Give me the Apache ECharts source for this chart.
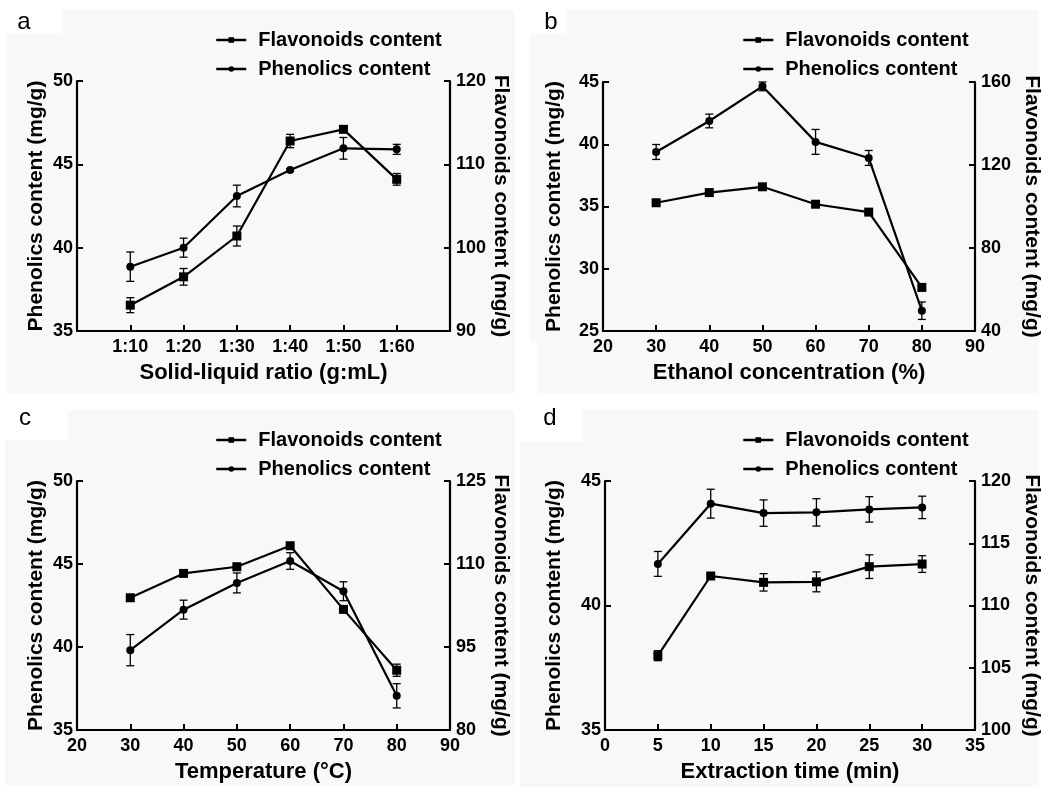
<!DOCTYPE html>
<html>
<head>
<meta charset="utf-8">
<script src="https://cdn.jsdelivr.net/npm/echarts@6/dist/echarts.min.js"></script>
<style>html,body{margin:0;padding:0;background:#fff}#c{width:1043px;height:790px}</style>
</head>
<body>
<div id="c"></div>
<script>
// ---------- DATA ----------
// Panel a: solid-liquid ratio
const ratioCategories = ['1:10', '1:20', '1:30', '1:40', '1:50', '1:60'];
const aPhenolics = [38.86, 40.0, 43.1, 44.66, 45.96, 45.9];
const aPhenolicsErr = [0.88, 0.57, 0.65, 0.08, 0.65, 0.3];
const aFlavonoids = [93.1, 96.5, 101.4, 112.8, 114.2, 108.2];
const aFlavonoidsErr = [0.9, 1.0, 1.2, 0.8, 0.3, 0.7];

// Panel b: ethanol concentration (%)
const ethanolX = [30, 40, 50, 60, 70, 80];
const bPhenolics = [39.38, 41.87, 44.65, 40.19, 38.9, 26.63];
const bPhenolicsErr = [0.6, 0.55, 0.35, 1.0, 0.6, 0.7];
const bFlavonoids = [101.8, 106.7, 109.5, 101.1, 97.3, 61.0];
const bFlavonoidsErr = [0.8, 0.8, 0.8, 0.8, 0.8, 0.8];

// Panel c: temperature (°C)
const tempX = [30, 40, 50, 60, 70, 80];
const cPhenolics = [39.81, 42.25, 43.86, 45.18, 43.36, 37.06];
const cPhenolicsErr = [0.94, 0.57, 0.6, 0.5, 0.57, 0.73];
const cFlavonoids = [103.9, 108.3, 109.5, 113.3, 101.8, 90.8];
const cFlavonoidsErr = [0.2, 0.3, 0.6, 0.5, 0.5, 1.1];

// Panel d: extraction time (min)
const timeX = [5, 10, 15, 20, 25, 30];
const dPhenolics = [41.67, 44.09, 43.71, 43.74, 43.86, 43.94];
const dPhenolicsErr = [0.5, 0.58, 0.53, 0.55, 0.51, 0.45];
const dFlavonoids = [105.97, 112.37, 111.86, 111.9, 113.12, 113.33];
const dFlavonoidsErr = [0.4, 0.2, 0.7, 0.8, 0.95, 0.67];

// Axis ranges / ticks
const xRanges = [[0, 7, 1], [20, 90, 10], [20, 90, 10], [0, 35, 5]];
const leftRanges = [[35, 50, 5], [25, 45, 5], [35, 50, 5], [35, 45, 5]];
const rightRanges = [[90, 120, 10], [40, 160, 40], [80, 125, 15], [100, 120, 5]];
const xNames = ['Solid-liquid ratio (g:mL)', 'Ethanol concentration (%)', 'Temperature (°C)', 'Extraction time (min)'];
const leftName = 'Phenolics content (mg/g)';
const rightName = 'Flavonoids content (mg/g)';
const panelLetters = ['a', 'b', 'c', 'd'];
const FLAV = 'Flavonoids content';
const PHEN = 'Phenolics content';

// ---------- LAYOUT ----------
const FONT = 'Liberation Sans, Arial, Helvetica, sans-serif';
const grids = [
  {left: 77, top: 81, width: 373, height: 250},
  {left: 603, top: 82, width: 373, height: 249},
  {left: 77, top: 481, width: 373, height: 249},
  {left: 605, top: 481, width: 371, height: 249}
];
const leftGaps = [30, 38, 30, 40];
const rightGaps = [40, 46, 40, 46];
const legendPos = [{left: 210, top: 25}, {left: 737, top: 25}, {left: 210, top: 425}, {left: 737, top: 425}];
const letterPos = [[24, 22], [551, 22], [25, 418], [550, 418]];

const panels = [
  {x: ratioCategories.map((c, i) => i + 1), ph: aPhenolics, phE: aPhenolicsErr, fl: aFlavonoids, flE: aFlavonoidsErr},
  {x: ethanolX, ph: bPhenolics, phE: bPhenolicsErr, fl: bFlavonoids, flE: bFlavonoidsErr},
  {x: tempX, ph: cPhenolics, phE: cPhenolicsErr, fl: cFlavonoids, flE: cFlavonoidsErr},
  {x: timeX, ph: dPhenolics, phE: dPhenolicsErr, fl: dFlavonoids, flE: dFlavonoidsErr}
];

const axisLine = {show: true, lineStyle: {color: '#000', width: 2.2}};
const axisTick = {show: true, inside: true, length: 6, lineStyle: {color: '#000', width: 2}};
const tickLabel = {color: '#000', fontFamily: FONT, fontWeight: 'bold', fontSize: 18};

function errRender(params, api) {
  const x = api.value(0), lo = api.value(1), hi = api.value(2);
  const p1 = api.coord([x, hi]), p2 = api.coord([x, lo]);
  const w = 4;
  const st = {stroke: '#000', lineWidth: 1.3};
  return {type: 'group', children: [
    {type: 'line', shape: {x1: p1[0], y1: p1[1], x2: p2[0], y2: p2[1]}, style: st},
    {type: 'line', shape: {x1: p1[0] - w, y1: p1[1], x2: p1[0] + w, y2: p1[1]}, style: st},
    {type: 'line', shape: {x1: p2[0] - w, y1: p2[1], x2: p2[0] + w, y2: p2[1]}, style: st}
  ]};
}

const xAxis = [], yAxis = [], series = [], legend = [], graphic = [];

// light gray panel backgrounds
const bgColor = '#f8f8f8';
[
  [62, 10, 453, 24], [6, 33, 509, 360],
  [567, 10, 472, 24], [530, 33, 509, 310], [538, 343, 501, 50],
  [68, 410, 447, 30], [5, 440, 510, 345],
  [582, 410, 457, 32], [520, 442, 519, 345]
].forEach(r => graphic.push({type: 'rect', shape: {x: r[0], y: r[1], width: r[2], height: r[3]}, style: {fill: bgColor}, z: -10, silent: true}));

panelLetters.forEach((L, i) => graphic.push({
  type: 'text', x: letterPos[i][0], y: letterPos[i][1], z: 10,
  style: {text: L, fill: '#000', font: '24px ' + FONT, align: 'center', verticalAlign: 'middle'}
}));

panels.forEach((p, i) => {
  xAxis.push({
    type: 'value', gridIndex: i, min: xRanges[i][0], max: xRanges[i][1], interval: xRanges[i][2],
    name: xNames[i], nameLocation: 'middle', nameGap: 31,
    nameTextStyle: {color: '#000', fontFamily: FONT, fontWeight: 'bold', fontSize: 22},
    axisLine: axisLine, axisTick: axisTick, splitLine: {show: false},
    axisLabel: Object.assign({margin: 7, showMinLabel: true, showMaxLabel: true,
      formatter: i === 0 ? (v => (v >= 1 && v <= ratioCategories.length) ? ratioCategories[v - 1] : '') : (v => String(v))
    }, tickLabel)
  });
  yAxis.push({
    type: 'value', gridIndex: i, position: 'left', min: leftRanges[i][0], max: leftRanges[i][1], interval: leftRanges[i][2],
    name: leftName, nameLocation: 'middle', nameGap: leftGaps[i], nameRotate: 90,
    nameTextStyle: {color: '#000', fontFamily: FONT, fontWeight: 'bold', fontSize: 21},
    axisLine: axisLine, axisTick: axisTick, splitLine: {show: false},
    axisLabel: Object.assign({margin: 4, showMinLabel: true, showMaxLabel: true}, tickLabel)
  });
  yAxis.push({
    type: 'value', gridIndex: i, position: 'right', min: rightRanges[i][0], max: rightRanges[i][1], interval: rightRanges[i][2],
    name: rightName, nameLocation: 'middle', nameGap: rightGaps[i], nameRotate: -90,
    nameTextStyle: {color: '#000', fontFamily: FONT, fontWeight: 'bold', fontSize: 21},
    axisLine: axisLine, axisTick: axisTick, splitLine: {show: false},
    axisLabel: Object.assign({margin: 6, showMinLabel: true, showMaxLabel: true}, tickLabel)
  });
  const yl = 2 * i, yr = 2 * i + 1;
  series.push({
    name: FLAV, type: 'line', xAxisIndex: i, yAxisIndex: yr, z: 5,
    data: p.x.map((x, k) => [x, p.fl[k]]),
    symbol: 'rect', symbolSize: 9, showAllSymbol: true,
    lineStyle: {color: '#000', width: 2.2}, itemStyle: {color: '#000'}, animation: false
  });
  series.push({
    name: PHEN, type: 'line', xAxisIndex: i, yAxisIndex: yl, z: 5,
    data: p.x.map((x, k) => [x, p.ph[k]]),
    symbol: 'circle', symbolSize: 8, showAllSymbol: true,
    lineStyle: {color: '#000', width: 2.2}, itemStyle: {color: '#000'}, animation: false
  });
  series.push({
    type: 'custom', xAxisIndex: i, yAxisIndex: yr, z: 4, renderItem: errRender, animation: false, silent: true,
    data: p.x.map((x, k) => [x, p.fl[k] - p.flE[k], p.fl[k] + p.flE[k]])
  });
  series.push({
    type: 'custom', xAxisIndex: i, yAxisIndex: yl, z: 4, renderItem: errRender, animation: false, silent: true,
    data: p.x.map((x, k) => [x, p.ph[k] - p.phE[k], p.ph[k] + p.phE[k]])
  });
  legend.push({
    left: legendPos[i].left, top: legendPos[i].top, orient: 'vertical', itemGap: 9,
    itemWidth: 30, itemHeight: 7, selectedMode: false,
    lineStyle: {width: 2.5, color: '#000'},
    data: [FLAV, PHEN],
    textStyle: {color: '#000', fontFamily: FONT, fontWeight: 'bold', fontSize: 20, lineHeight: 20, padding: [0, 0, 0, 7]}
  });
});

const chart = echarts.init(document.getElementById('c'), null, {renderer: 'canvas'});
chart.setOption({
  backgroundColor: '#fff',
  animation: false,
  grid: grids,
  xAxis: xAxis,
  yAxis: yAxis,
  legend: legend,
  series: series,
  graphic: graphic
});
</script>
</body>
</html>
